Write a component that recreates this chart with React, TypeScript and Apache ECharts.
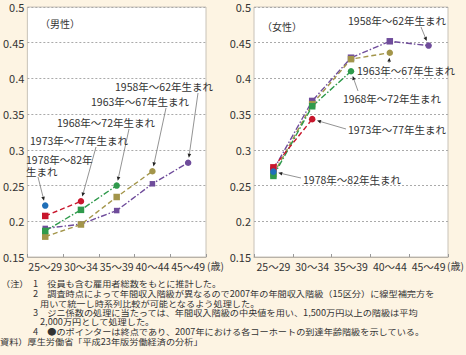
import React, { useEffect, useRef } from "react";
import * as echarts from "echarts";

const categories = ["25～29", "30～34", "35～39", "40～44", "45～49"];
const yTicks = { min: 0.15, max: 0.5, interval: 0.05 };

// 男性
const male1958 = [0.19, 0.196, 0.215, 0.2525, 0.282];
const male1963 = [0.1785, 0.1955, 0.234, 0.27, null];
const male1968 = [0.1865, 0.216, 0.25, null, null];
const male1973 = [0.2075, 0.228, null, null, null];
const male1978 = [0.222, null, null, null, null];

// 女性
const female1958 = [0.272, 0.3685, 0.429, 0.452, 0.446];
const female1963 = [0.266, 0.364, 0.427, 0.436, null];
const female1968 = [0.2635, 0.361, 0.41, null, null];
const female1973 = [0.2755, 0.343, null, null, null];
const female1978 = [0.2695, null, null, null, null];

const cohortLabels = [
  "1958年～62年生まれ",
  "1963年～67年生まれ",
  "1968年～72年生まれ",
  "1973年～77年生まれ",
  "1978年～82年生まれ",
];

const notes = [
  "（注）",
  "1　役員も含む雇用者総数をもとに推計した。",
  "2　調査時点によって年間収入階級が異なるので2007年の年間収入階級（15区分）に線型補完方を",
  "用いて統一し時系列比較が可能となるよう処理した。",
  "3　ジニ係数の処理に当たっては、年間収入階級の中央値を用い、1,500万円以上の階級は平均",
  "2,000万円として処理した。",
  "4　●のポインターは終点であり、2007年における各コーホートの到達年齢階級を示している。",
  "資料）厚生労働省「平成23年版労働経済の分析」",
];

const COLORS = {
  c1958: "#6f4c9b",
  c1963: "#a3954a",
  c1968: "#2f9a4c",
  c1973: "#c8162c",
  c1978: "#1f6fb8",
};

const FONT = "'Noto Sans CJK JP', 'Noto Sans', sans-serif";

function mkSeries(name: string, data: (number | null)[], color: string, dash: any, ax: number, sq = 6.5) {
  let last = -1;
  data.forEach((v, i) => {
    if (v != null) last = i;
  });
  return {
    type: "line",
    name,
    xAxisIndex: ax,
    yAxisIndex: ax,
    data: data.map((v, i) =>
      v == null
        ? null
        : { value: v, symbol: i === last ? "circle" : "rect", symbolSize: i === last ? 6.5 : sq }
    ),
    showSymbol: true,
    connectNulls: false,
    lineStyle: { color, width: 1.4, type: dash },
    itemStyle: { color },
    emphasis: { disabled: true },
  };
}

export default function App() {
  const ref = useRef<HTMLDivElement>(null);
  useEffect(() => {
    document.body.style.margin = "0";
    const chart = echarts.init(ref.current!, null, { renderer: "svg" });
    const gridCommon = {
      show: true,
      backgroundColor: "#ffffff",
      borderColor: "#c8c2b8",
      borderWidth: 1,
      top: 7,
      bottom: 98,
    };
    const xAxisCommon = {
      type: "category",
      data: categories,
      boundaryGap: true,
      axisLine: { lineStyle: { color: "#b8b2a8" } },
      axisTick: { show: true, inside: true, length: 3, lineStyle: { color: "#999" } },
      axisLabel: { color: "#333", fontSize: 10.5, fontFamily: FONT, margin: 4, interval: 0 },
    };
    const yAxisCommon = {
      type: "value",
      min: yTicks.min,
      max: yTicks.max,
      interval: yTicks.interval,
      axisLine: { show: false },
      axisTick: { show: false },
      axisLabel: { color: "#333", fontSize: 11, fontFamily: FONT, margin: 3 },
      splitLine: { show: true, lineStyle: { color: "#aaa", type: [2, 2], width: 1 } },
    };
    const dashA = [5, 3];
    const dashDot = [6, 2, 1.5, 2];
    chart.setOption({
      animation: false,
      backgroundColor: "#fdf4e3",
      grid: [
        { ...gridCommon, left: 25, right: 260 },
        { ...gridCommon, left: 254, right: 18 },
      ],
      xAxis: [
        { ...xAxisCommon, gridIndex: 0 },
        { ...xAxisCommon, gridIndex: 1 },
      ],
      yAxis: [
        { ...yAxisCommon, gridIndex: 0 },
        { ...yAxisCommon, gridIndex: 1 },
      ],
      series: [
        mkSeries("m1958", male1958, COLORS.c1958, dashDot, 0, 5.5),
        mkSeries("m1963", male1963, COLORS.c1963, dashA, 0),
        mkSeries("m1968", male1968, COLORS.c1968, dashDot, 0),
        mkSeries("m1973", male1973, COLORS.c1973, dashA, 0),
        mkSeries("m1978", male1978, COLORS.c1978, dashA, 0),
        mkSeries("f1958", female1958, COLORS.c1958, dashDot, 1),
        mkSeries("f1963", female1963, COLORS.c1963, dashA, 1),
        mkSeries("f1968", female1968, COLORS.c1968, dashDot, 1),
        mkSeries("f1973", female1973, COLORS.c1973, dashA, 1),
        mkSeries("f1978", female1978, COLORS.c1978, dashA, 1),
      ],
    });

    // annotations
    const ann = [
      { t: cohortLabels[0], x: 115, y: 86, sx: 198, sy: 93, d: male1958, i: 4, ax: 0 },
      { t: cohortLabels[1], x: 91, y: 101, sx: 166, sy: 108, d: male1963, i: 3, ax: 0 },
      { t: cohortLabels[2], x: 57, y: 122, sx: 129, sy: 129, d: male1968, i: 2, ax: 0 },
      { t: cohortLabels[3], x: 30, y: 140, sx: 96, sy: 147, d: male1973, i: 1, ax: 0 },
      { t: "1978年～82年\n生まれ", x: 26, y: 165, sx: 38, sy: 177, d: male1978, i: 0, ax: 0 },
      { t: cohortLabels[0], x: 348, y: 20, sx: 421, sy: 27, d: female1958, i: 4, ax: 1 },
      { t: cohortLabels[1], x: 357, y: 70, sx: 389, sy: 63, d: female1963, i: 3, ax: 1 },
      { t: cohortLabels[2], x: 343, y: 98, sx: 358, sy: 91, d: female1968, i: 2, ax: 1 },
      { t: cohortLabels[3], x: 348, y: 129, sx: 346, sy: 129, d: female1973, i: 1, ax: 1 },
      { t: cohortLabels[4], x: 303, y: 179, sx: 301, sy: 178, d: female1978, i: 0, ax: 1 },
    ];
    const elements: any[] = [];
    ann.forEach((a) => {
      const p = chart.convertToPixel({ xAxisIndex: a.ax, yAxisIndex: a.ax } as any, [a.i, a.d[a.i] as number]) as number[];
      const dx = a.sx - p[0];
      const dy = a.sy - p[1];
      const len = Math.sqrt(dx * dx + dy * dy) || 1;
      const ux = dx / len;
      const uy = dy / len;
      const tipX = p[0] + ux * 5;
      const tipY = p[1] + uy * 5;
      const bx = tipX + ux * 4;
      const by = tipY + uy * 4;
      const nx = -uy * 1.8;
      const ny = ux * 1.8;
      elements.push({
        type: "line",
        shape: { x1: a.sx, y1: a.sy, x2: bx, y2: by },
        style: { stroke: "#777", lineWidth: 0.8 },
        silent: true,
      });
      elements.push({
        type: "polygon",
        shape: { points: [[tipX, tipY], [bx + nx, by + ny], [bx - nx, by - ny]] },
        style: { fill: "#222" },
        silent: true,
      });
      elements.push({
        type: "text",
        x: a.x,
        y: a.y,
        style: {
          text: a.t,
          fill: "#333",
          font: `10.5px ${FONT}`,
          verticalAlign: "middle",
          lineHeight: 12,
        },
        silent: true,
      });
    });
    elements.push(
      { type: "text", x: 40, y: 23, style: { text: "（男性）", fill: "#333", font: `10px ${FONT}`, verticalAlign: "middle" } },
      { type: "text", x: 262, y: 26, style: { text: "（女性）", fill: "#333", font: `10px ${FONT}`, verticalAlign: "middle" } },
      { type: "text", x: 207, y: 265, style: { text: "(歳)", fill: "#333", font: `10px ${FONT}`, verticalAlign: "middle" } },
      { type: "text", x: 447, y: 265, style: { text: "(歳)", fill: "#333", font: `10px ${FONT}`, verticalAlign: "middle" } }
    );
    const noteLines = [
      { t: notes[0], x: 1, y: 284 },
      { t: notes[1], x: 33, y: 284 },
      { t: notes[2], x: 33, y: 293.8 },
      { t: notes[3], x: 40, y: 303.2 },
      { t: notes[4], x: 33, y: 312.8 },
      { t: notes[5], x: 40, y: 322 },
      { t: notes[6], x: 33, y: 331.8 },
      { t: notes[7], x: 0, y: 341.2 },
    ];
    noteLines.forEach((n) => {
      elements.push({
        type: "text",
        x: n.x,
        y: n.y,
        scaleX: 1.08,
        style: { text: n.t, fill: "#333", font: `8.5px ${FONT}`, verticalAlign: "middle", lineHeight: 8.5 },
        silent: true,
      });
    });
    chart.setOption({ graphic: elements });
    return () => chart.dispose();
  }, []);
  return (
    <div
      ref={ref}
      style={{ position: "absolute", left: 0, top: 0, width: 466, height: 355 }}
    />
  );
}
